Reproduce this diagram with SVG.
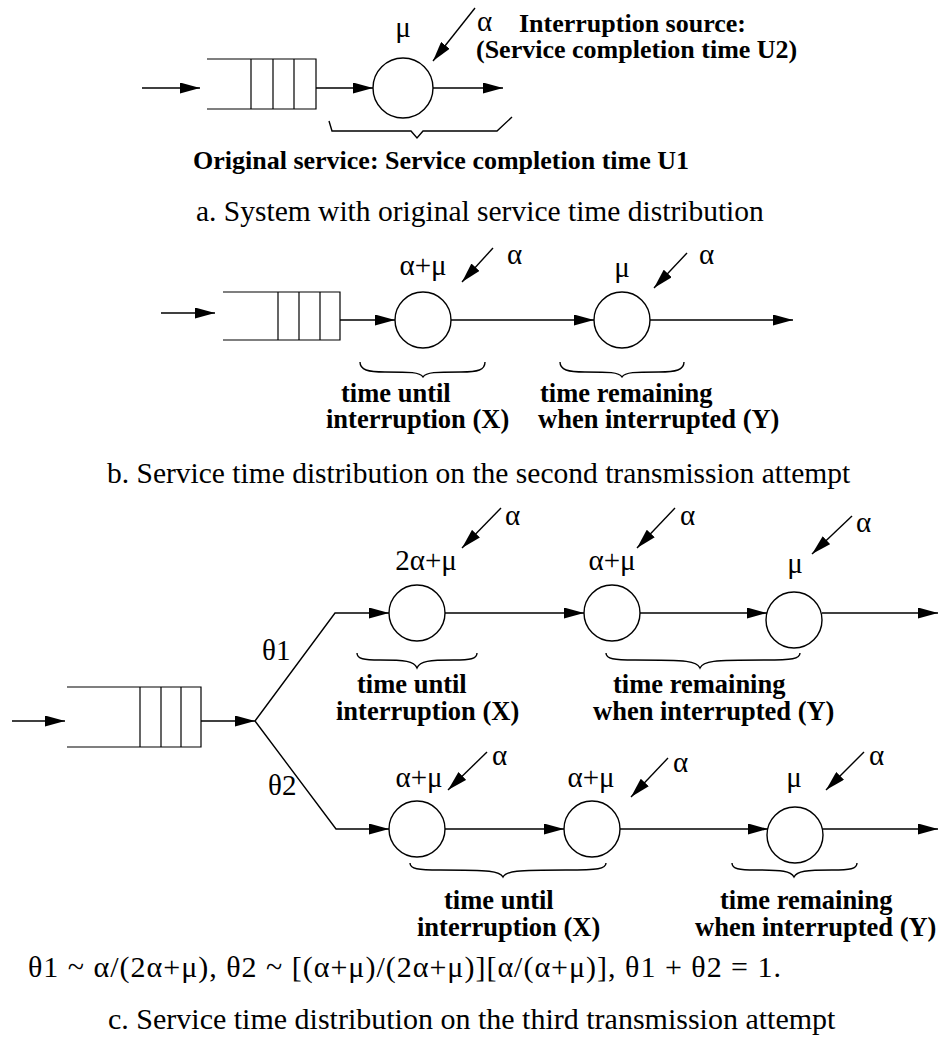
<svg xmlns="http://www.w3.org/2000/svg" width="940" height="1045" viewBox="0 0 940 1045">
<defs>
<marker id="ah" markerWidth="20" markerHeight="11" refX="20" refY="5.5" orient="auto" markerUnits="userSpaceOnUse"><path d="M0,0 L20,5.5 L0,11 z" fill="#000"/></marker>
<style>
.ln{fill:none;stroke:#000;stroke-width:1.4}
.ar{fill:none;stroke:#000;stroke-width:1.4;marker-end:url(#ah)}
.nd{fill:#fff;stroke:#000;stroke-width:1.4}
.q{fill:none;stroke:#000;stroke-width:1.2}
.t{font-family:"Liberation Serif","Times New Roman",serif;font-size:29px;fill:#000}
.m{text-anchor:middle}
.b{font-family:"Liberation Serif","Times New Roman",serif;font-size:26px;font-weight:bold;fill:#000}
.bt{font-family:"Liberation Serif","Times New Roman",serif;font-size:26.5px;font-weight:bold;fill:#000}
.cap{font-family:"Liberation Serif","Times New Roman",serif;font-size:29.5px;fill:#000}
.cap2{font-family:"Liberation Serif","Times New Roman",serif;font-size:30px;fill:#000}
</style>
</defs>
<rect width="940" height="1045" fill="#fff"/>

<!-- Section a -->
<g id="a-queue"><path class="q" d="M207,59 H316 V109 H207 M251,59 V109 M273,59 V109 M294,59 V109"/></g>
<g id="a-server"><circle class="nd" cx="403" cy="88" r="30"/><text class="t m" x="403" y="37">μ</text></g>
<g id="a-labels">
<text class="t" x="477" y="31">α</text>
<text class="b" x="519" y="32">Interruption source:</text>
<text class="b" x="476" y="58">(Service completion time U2)</text>
<text class="b" x="193" y="169">Original service: Service completion time U1</text>
<text class="cap" x="196" y="221">a. System with original service time distribution</text>
</g>

<!-- Section b -->
<g id="b-queue"><path class="q" d="M223,292 H340 V340 H223 M278,292 V340 M299,292 V340 M320,292 V340"/></g>
<g id="b-server1"><circle class="nd" cx="423" cy="320" r="28"/><text class="t m" x="423" y="275">α+μ</text></g>
<g id="b-server2"><circle class="nd" cx="622" cy="320" r="28"/><text class="t m" x="622" y="277">μ</text></g>
<g id="b-labels">
<text class="t" x="507" y="264">α</text>
<text class="t" x="699" y="264">α</text>
<text class="bt" x="341" y="402">time until</text>
<text class="bt" x="326" y="428">interruption (X)</text>
<text class="bt" x="540" y="402">time remaining</text>
<text class="bt" x="538" y="428">when interrupted (Y)</text>
<text class="cap" x="107" y="483">b. Service time distribution on the second transmission attempt</text>
</g>

<!-- Section c -->
<g id="c-queue"><path class="q" d="M67,687 H201 V747 H67 M140,687 V747 M161,687 V747 M181,687 V747"/></g>
<g id="c-top1"><circle class="nd" cx="417" cy="613" r="28"/><text class="t m" x="426" y="570">2α+μ</text></g>
<g id="c-top2"><circle class="nd" cx="612" cy="613" r="28"/><text class="t m" x="612" y="570">α+μ</text></g>
<g id="c-top3"><circle class="nd" cx="794" cy="620" r="28"/><text class="t m" x="795" y="573">μ</text></g>
<g id="c-bot1"><circle class="nd" cx="417" cy="829" r="28"/><text class="t m" x="419" y="787">α+μ</text></g>
<g id="c-bot2"><circle class="nd" cx="592" cy="829" r="28"/><text class="t m" x="591" y="787">α+μ</text></g>
<g id="c-bot3"><circle class="nd" cx="795" cy="835" r="28"/><text class="t m" x="794" y="787">μ</text></g>
<g id="c-labels">
<text class="t" x="262" y="660">θ1</text>
<text class="t" x="268" y="795">θ2</text>
<text class="t" x="505" y="525">α</text>
<text class="t" x="680" y="525">α</text>
<text class="t" x="856" y="532">α</text>
<text class="t" x="492" y="765">α</text>
<text class="t" x="673" y="772">α</text>
<text class="t" x="869" y="765">α</text>
<text class="bt" x="357" y="693">time until</text>
<text class="bt" x="336" y="720">interruption (X)</text>
<text class="bt" x="613" y="693">time remaining</text>
<text class="bt" x="593" y="720">when interrupted (Y)</text>
<text class="bt" x="444" y="909">time until</text>
<text class="bt" x="417" y="936">interruption (X)</text>
<text class="bt" x="720" y="909">time remaining</text>
<text class="bt" x="695" y="936">when interrupted (Y)</text>
<text class="cap2" x="28" y="977" textLength="753" lengthAdjust="spacing">θ1 ~ α/(2α+μ), θ2 ~ [(α+μ)/(2α+μ)][α/(α+μ)], θ1 + θ2 = 1.</text>
<text class="cap2" x="108" y="1029">c. Service time distribution on the third transmission attempt</text>
</g>

<g id="connectors">
<!-- a -->
<line class="ar" x1="142" y1="88" x2="200" y2="88"/>
<line class="ar" x1="316" y1="88" x2="373" y2="88"/>
<line class="ar" x1="433" y1="88" x2="503" y2="88"/>
<line class="ar" x1="475" y1="8" x2="433" y2="61"/>
<path class="ln" d="M329,121 L332,131 L411,131 L417,138 L423,131 L497,131 L512,117"/>
<!-- b -->
<line class="ar" x1="161" y1="313" x2="215" y2="313"/>
<line class="ar" x1="340" y1="320" x2="395" y2="320"/>
<line class="ar" x1="451" y1="320" x2="594" y2="320"/>
<line class="ar" x1="650" y1="320" x2="793" y2="320"/>
<line class="ar" x1="493" y1="248" x2="462" y2="282"/>
<line class="ar" x1="687" y1="253" x2="654" y2="288"/>
<path class="ln" d="M360,362 C360,370 368,372 385,372 C410,372 420,372 423,377 C426,372 436,372 461,372 C478,372 485,370 485,362"/>
<path class="ln" d="M560,362 C560,370 568,372 585,372 C609,372 619,372 622,377 C625,372 635,372 659,372 C676,372 684,370 684,362"/>
<!-- c -->
<line class="ar" x1="12" y1="721" x2="65" y2="721"/>
<line class="ar" x1="201" y1="721" x2="255" y2="721"/>
<path class="ar" d="M255,721 L335,613 L389,613"/>
<path class="ar" d="M255,721 L336,829 L389,829"/>
<line class="ar" x1="445" y1="613" x2="584" y2="613"/>
<line class="ar" x1="640" y1="613" x2="767" y2="613"/>
<line class="ar" x1="822" y1="613" x2="938" y2="613"/>
<line class="ar" x1="445" y1="829" x2="564" y2="829"/>
<line class="ar" x1="620" y1="829" x2="768" y2="829"/>
<line class="ar" x1="823" y1="829" x2="938" y2="829"/>
<line class="ar" x1="501" y1="508" x2="462" y2="548"/>
<line class="ar" x1="675" y1="508" x2="637" y2="548"/>
<line class="ar" x1="852" y1="516" x2="812" y2="554"/>
<line class="ar" x1="487" y1="752" x2="448" y2="790"/>
<line class="ar" x1="668" y1="758" x2="631" y2="797"/>
<line class="ar" x1="864" y1="752" x2="826" y2="790"/>
<path class="ln" d="M357,653 C357,659 364,660 380,660 C405,660 414,661 417,668 C420,661 429,660 454,660 C470,660 477,659 477,653"/>
<path class="ln" d="M606,653 C606,659 614,660 635,660 C688,660 697,661 700,668 C703,661 712,660 765,660 C792,660 800,659 800,653"/>
<path class="ln" d="M410,863 C410,869 418,870 440,870 C490,870 500,871 503,877 C506,871 516,870 566,870 C598,870 606,869 606,863"/>
<path class="ln" d="M732,863 C732,869 739,870 756,870 C782,870 791,871 794,877 C797,871 806,870 832,870 C850,870 857,869 857,863"/>
</g>
</svg>
